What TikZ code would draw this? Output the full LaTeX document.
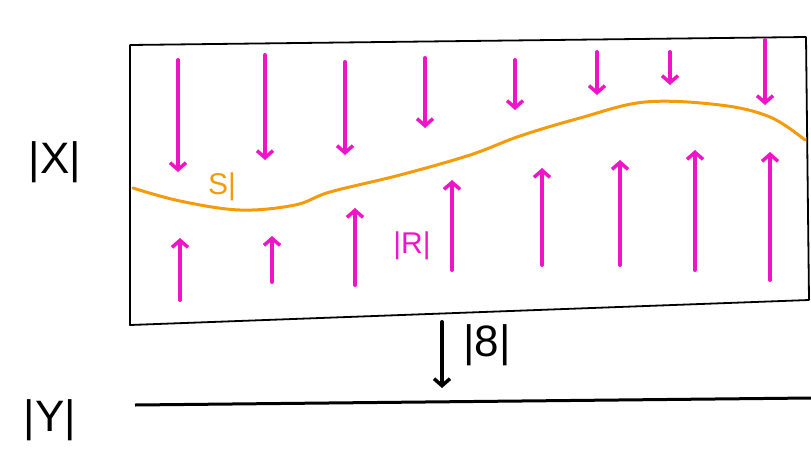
\documentclass[tikz,border=0pt]{standalone}
\usepackage{fontspec}
\setmainfont{Liberation Sans}
\usetikzlibrary{arrows.meta}
\definecolor{mag}{RGB}{240,20,200}
\definecolor{org}{RGB}{245,155,10}
\begin{document}
\begin{tikzpicture}[x=1pt,y=-1pt,
  frame/.style={draw=black,line width=1.8pt,line join=round},
  fieldarrow/.style={draw=mag,line width=4pt,line cap=round,-{Straight Barb[length=7pt,width=16pt,line width=3.5pt]}},
  blackarrow/.style={draw=black,line width=4pt,line cap=round,-{Straight Barb[length=7pt,width=16pt,line width=3.5pt]}},
  lbl/.style={font=\fontsize{44}{44}\selectfont,inner sep=0pt},
  slbl/.style={font=\fontsize{30}{30}\selectfont,inner sep=0pt}]
\useasboundingbox (0,0) rectangle (811,453);
\fill[white] (0,0) rectangle (811,453);
% box
\coordinate (tl) at (130,45);
\coordinate (tr) at (806,37);
\coordinate (br) at (809,300);
\coordinate (bl) at (130,325);
\draw[frame] (tl) -- (tr) -- (br) -- (bl) -- cycle;
% orange curve
\draw[org,line width=3pt,line cap=round] plot[smooth,tension=0.6] coordinates {(133,188) (180,201) (240,210) (295,205) (330,192) (400,175) (470,155) (520,136) (580,118) (645,102) (720,105) (770,117) (805,140)};
% down arrows (top)
\foreach \i/\x/\a/\b in {1/178/60/172,2/265/55/160,3/345/62/155,4/425/58/128,5/515/60/110,6/597/52/95,7/670/52/85,8/765/40/105}{
  \coordinate (d\i s) at (\x,\a);
  \coordinate (d\i e) at (\x,\b);
  \draw[fieldarrow] (d\i s) -- (d\i e);
}
% up arrows (bottom)
\foreach \i/\x/\a/\b in {1/180/300/238,2/272/282/236,3/355/285/208,4/452/270/180,5/542/265/168,6/620/265/160,7/695/270/150,8/770/280/152}{
  \coordinate (u\i s) at (\x,\a);
  \coordinate (u\i e) at (\x,\b);
  \draw[fieldarrow] (u\i s) -- (u\i e);
}
% labels
\node[lbl] (X) at (55,162) {|X|};
\node[lbl] (Y) at (50,420) {|Y|};
\node[slbl,text=org] (S) at (222,187) {S|};
\node[slbl,text=mag] (R) at (412,246) {|R|};
\node[lbl] (E) at (487,345) {|8|};
% black arrow
\coordinate (ka) at (442,322);
\coordinate (kb) at (442,388);
\draw[blackarrow] (ka) -- (kb);
% bottom line
\coordinate (la) at (135,405);
\coordinate (lb) at (811,398);
\draw[black,line width=3pt] (la) -- (lb);
\end{tikzpicture}
\end{document}
